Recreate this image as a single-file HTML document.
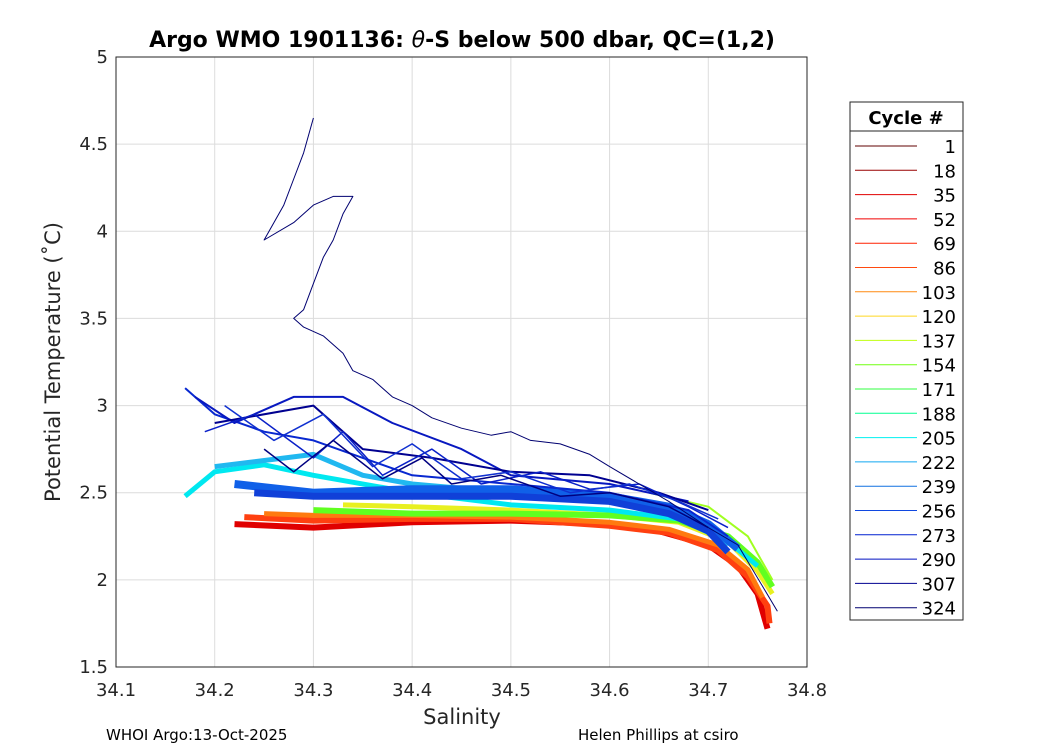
<!DOCTYPE html>
<html><head><meta charset="utf-8">
<style>
body{margin:0;background:#fff;}
svg{display:block;font-family:"DejaVu Sans","Liberation Sans",sans-serif;}
</style></head>
<body>
<svg id="chart" width="1050" height="750" viewBox="0 0 1050 750">
<rect x="0" y="0" width="1050" height="750" fill="#fff"/>
<g id="grid"></g>
<rect x="116" y="57" width="691" height="610" fill="none" stroke="#262626" stroke-width="1"/>
<g id="series"></g>
<g id="ticks"></g>
<text x="462" y="47" text-anchor="middle" font-size="22" font-weight="bold" fill="#000">Argo WMO 1901136: <tspan font-style="italic" font-weight="normal">θ</tspan>-S below 500 dbar,  QC=(1,2)</text>
<text x="462" y="724" text-anchor="middle" font-size="21" fill="#262626">Salinity</text>
<text transform="translate(60,362) rotate(-90)" text-anchor="middle" font-size="21" fill="#262626">Potential Temperature (˚C)</text>
<text x="106" y="740" font-size="15" fill="#000">WHOI Argo:13-Oct-2025</text>
<text x="578" y="740" font-size="15" fill="#000">Helen Phillips at csiro</text>
<g id="legend">
<rect x="850" y="102" width="113" height="518" fill="#fff" stroke="#262626" stroke-width="1"/>
<line x1="850" y1="131" x2="963" y2="131" stroke="#262626"/>
<text x="906" y="124" text-anchor="middle" font-size="18" font-weight="bold" fill="#000">Cycle #</text>
</g>
</svg>
<script>
const NS="http://www.w3.org/2000/svg";
const xTicks=[34.1,34.2,34.3,34.4,34.5,34.6,34.7,34.8];
const yTicks=[1.5,2,2.5,3,3.5,4,4.5,5];
const legendCycles=[1,18,35,52,69,86,103,120,137,154,171,188,205,222,239,256,273,290,307,324];
const legendColors=["#600000","#990000","#e00000","#f00000","#ff2000","#ff4a10","#ff8a10","#ffd820","#c0ff10","#70ff10","#30ff40","#00ff90","#00f0f0","#10a8f0","#1070e0","#1048e0","#0020d0","#0010c0","#000090","#000070"];
const profS=[
[34.22,34.3,34.4,34.5,34.6,34.65,34.7,34.73,34.75,34.76],
[34.23,34.3,34.4,34.5,34.6,34.66,34.71,34.74,34.76,34.762],
[34.25,34.3,34.4,34.5,34.6,34.66,34.71,34.74,34.755],
[34.33,34.4,34.5,34.6,34.67,34.72,34.75,34.765],
[34.3,34.4,34.5,34.6,34.67,34.72,34.75,34.765],
[34.64,34.7,34.74,34.765],
[34.17,34.2,34.25,34.3,34.4,34.5,34.6,34.67,34.72,34.75],
[34.2,34.3,34.35,34.4,34.5,34.6,34.68,34.72],
[34.22,34.3,34.4,34.5,34.6,34.66,34.7,34.73],
[34.24,34.3,34.4,34.5,34.6,34.66,34.7,34.72],
[34.17,34.2,34.25,34.3,34.35,34.4,34.5,34.6,34.68,34.72],
[34.18,34.22,34.28,34.33,34.38,34.45,34.5,34.6,34.68],
[34.2,34.3,34.35,34.42,34.5,34.58,34.65,34.7],
[34.19,34.24,34.3,34.33,34.37,34.42,34.47,34.53,34.58,34.63,34.68,34.72],
[34.21,34.26,34.31,34.36,34.4,34.45,34.5,34.56,34.62,34.67,34.71],
[34.25,34.28,34.32,34.37,34.41,34.44,34.49,34.55,34.6,34.66,34.7],
[34.3,34.29,34.28,34.27,34.25,34.28,34.3,34.32,34.34,34.33,34.32,34.31,34.3,34.29,34.28,34.29,34.31,34.33,34.34,34.36,34.38,34.4,34.42,34.45,34.48,34.5,34.52,34.55,34.58,34.6,34.63,34.66,34.7,34.73,34.77]
];
const profT=[
[2.32,2.30,2.33,2.34,2.32,2.28,2.20,2.08,1.92,1.72],
[2.36,2.34,2.35,2.35,2.31,2.27,2.17,2.02,1.85,1.75],
[2.38,2.37,2.37,2.36,2.33,2.29,2.20,2.06,1.9],
[2.43,2.42,2.40,2.37,2.33,2.22,2.05,1.92],
[2.40,2.38,2.38,2.37,2.34,2.25,2.1,1.96],
[2.5,2.42,2.25,2.0],
[2.48,2.62,2.66,2.6,2.5,2.43,2.4,2.35,2.22,2.08],
[2.65,2.72,2.6,2.55,2.5,2.45,2.35,2.2],
[2.55,2.5,2.52,2.52,2.48,2.42,2.32,2.18],
[2.5,2.48,2.48,2.48,2.45,2.38,2.28,2.16],
[3.1,2.95,2.85,2.8,2.7,2.6,2.55,2.5,2.4,2.25],
[3.05,2.9,3.05,3.05,2.9,2.75,2.6,2.55,2.45],
[2.9,3.0,2.75,2.7,2.62,2.6,2.5,2.4],
[2.85,2.95,2.7,2.85,2.6,2.75,2.55,2.62,2.52,2.55,2.42,2.3],
[3.0,2.8,2.95,2.65,2.78,2.58,2.62,2.5,2.55,2.45,2.35],
[2.75,2.62,2.8,2.58,2.7,2.55,2.6,2.48,2.5,2.42,2.3],
[4.65,4.45,4.3,4.15,3.95,4.05,4.15,4.2,4.2,4.1,3.95,3.85,3.7,3.55,3.5,3.45,3.4,3.3,3.2,3.15,3.05,3.0,2.93,2.87,2.83,2.85,2.8,2.78,2.72,2.65,2.55,2.45,2.3,2.2,1.82]
];
const profColor=["#e00000","#ff4010","#ff7a10","#e8f020","#60ff20","#a0ff20","#00e8f0","#20b8f0","#1060e8","#1040d8","#0828d0","#0818c0","#000090","#0a20c8","#1030d0","#000080","#000070"];
const profWidth=[6,6,5,5,6,2,5,5,8,7,2,2,2,1.5,1.5,1.5,1];
const x=s=>116+(s-34.1)/0.7*691;
const y=t=>667-(t-1.5)/3.5*610;
const grid=document.getElementById('grid'),ticks=document.getElementById('ticks'),ser=document.getElementById('series'),leg=document.getElementById('legend');
function mk(tag,attrs,parent){const e=document.createElementNS(NS,tag);for(const k in attrs)e.setAttribute(k,attrs[k]);parent.appendChild(e);return e;}
xTicks.forEach(v=>{
 const g=mk('line',{x1:x(v),x2:x(v),y1:57,y2:667,stroke:'#dcdcdc','stroke-width':1},grid);
 
 
 const t=mk('text',{x:x(v),y:696,'text-anchor':'middle','font-size':18,fill:'#262626'},ticks);
 t.textContent=v.toFixed(1);
 
 
});
yTicks.forEach(v=>{
 const g=mk('line',{x1:116,x2:807,y1:y(v),y2:y(v),stroke:'#dcdcdc','stroke-width':1},grid);
 
 
 const t=mk('text',{x:108,y:y(v)+6,'text-anchor':'end','font-size':18,fill:'#262626'},ticks);
 t.textContent=String(v);
 
 
});
profS.forEach((S,i)=>{
 const d=S.map((s,j)=>(j?'L':'M')+x(s).toFixed(1)+','+y(profT[i][j]).toFixed(1)).join(' ');
 const p=mk('path',{d:d,fill:'none',stroke:profColor[i],'stroke-width':profWidth[i],'stroke-linejoin':'round'},ser);
 
 
});
legendCycles.forEach((c,i)=>{
 const yy=146+i*24.3;
 const l=mk('line',{x1:855,x2:917,y1:yy,y2:yy,stroke:legendColors[i],'stroke-width':1},leg);
 
 
 const t=mk('text',{x:956,y:yy+7,'text-anchor':'end','font-size':18,fill:'#000'},leg);
 t.textContent=c;
 
 
});
</script>
</body></html>
